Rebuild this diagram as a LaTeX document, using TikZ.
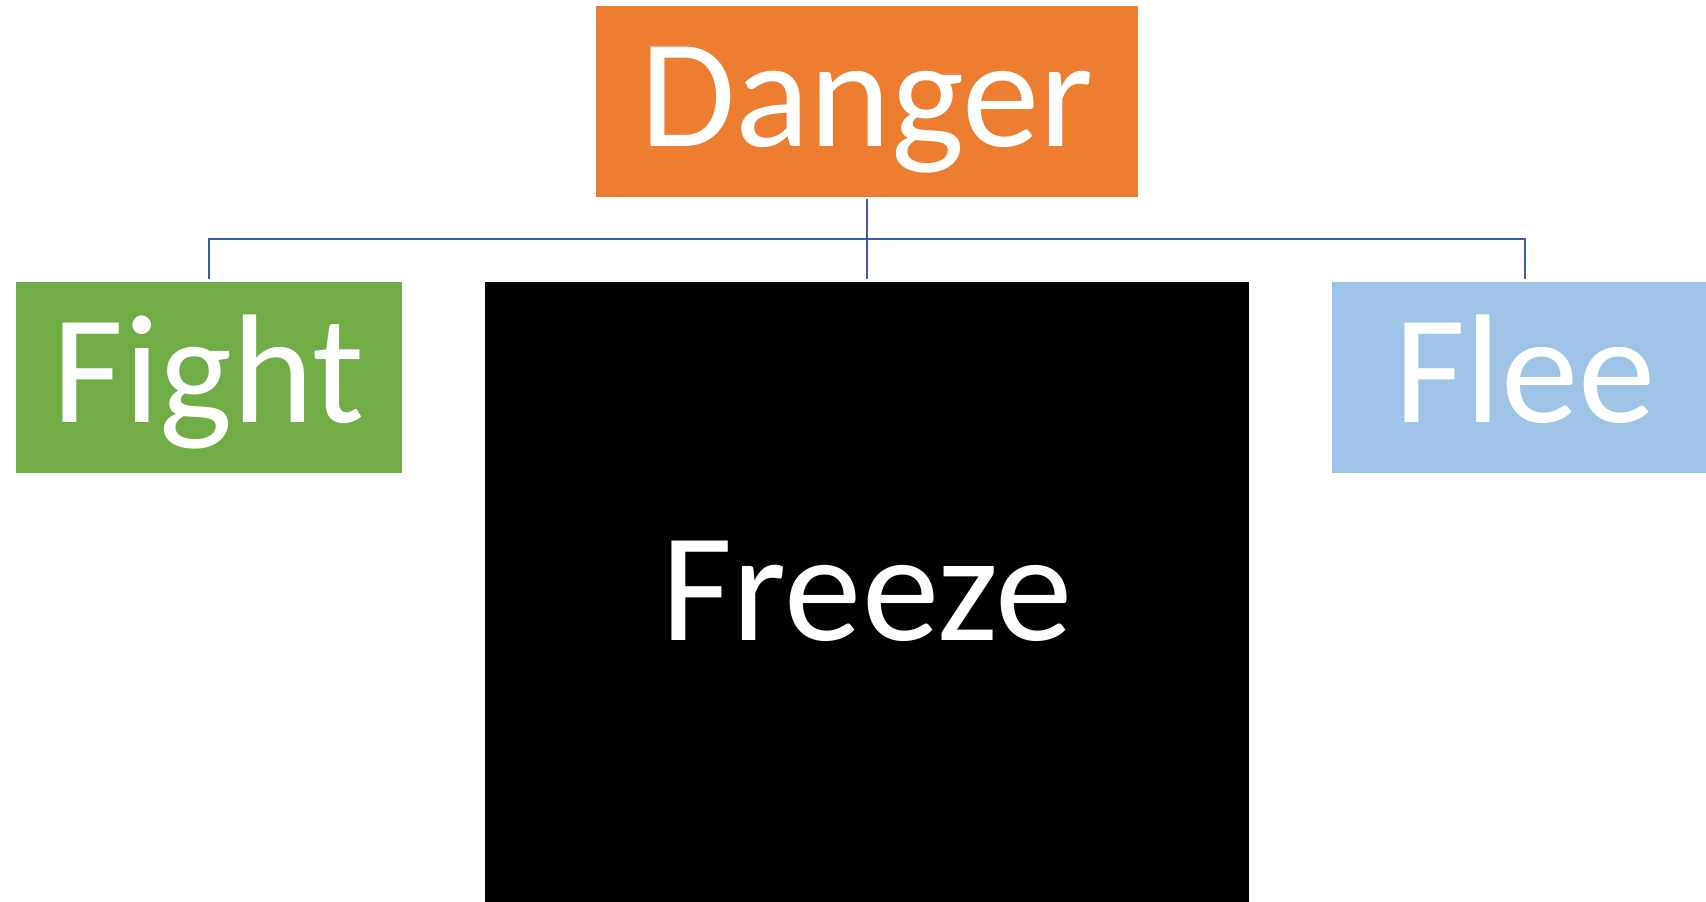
\documentclass[tikz,border=0pt]{standalone}
\usepackage{fontspec}
\setmainfont{Carlito}
\definecolor{dangerc}{RGB}{237,125,49}
\definecolor{fightc}{RGB}{112,173,71}
\definecolor{fleec}{RGB}{157,195,230}
\definecolor{connc}{RGB}{59,92,168}
\tikzset{
  box/.style={rectangle, draw=none, inner sep=0pt, text=white,
    font=\fontsize{155}{160}\selectfont, text height=89pt, text depth=0pt},
  conn/.style={draw=connc, line width=2pt}
}
\begin{document}
\begin{tikzpicture}[x=1pt,y=1pt]
\clip (0,0) rectangle (1706,-902);
\useasboundingbox (0,0) rectangle (1706,-902);
\node[box, fill=dangerc, minimum width=542pt, minimum height=191pt] (danger) at (867,-101.5) {Danger};
\node[box, fill=fightc, minimum width=386pt, minimum height=191pt] (fight) at (208.7,-377.5) {Fight};
\node[box, fill=fleec, minimum width=386pt, minimum height=191pt] (flee) at (1525,-377.5) {Flee};
\node[box, fill=black, minimum width=764pt, minimum height=627pt] (freeze) at (867,-595.5) {Freeze};
\coordinate (bus) at (867,-239);
\draw[conn, shorten <=3pt, shorten >=3pt] (fight.north) -- (fight.north |- bus) -- (flee.north |- bus) -- (flee.north);
\draw[conn, shorten <=2pt, shorten >=3pt] (danger.south) -- (freeze.north);
\end{tikzpicture}
\end{document}
